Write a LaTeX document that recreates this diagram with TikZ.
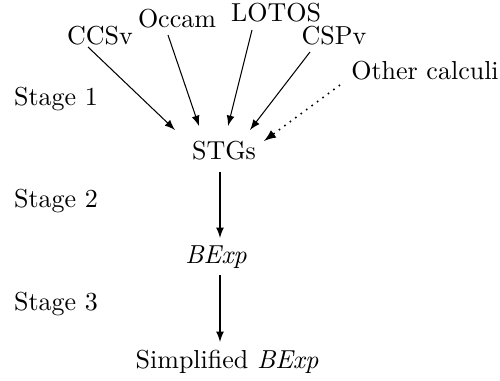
\documentclass[tikz,border=0pt]{standalone}
\begin{document}
\begin{tikzpicture}[>=latex, x=0.3846pt, y=-0.3846pt]
\useasboundingbox (0,0) rectangle (500,381);
% source languages
\node (ccs)   at (100, 36) {CCSv};
\node (occam) at (177, 19) {Occam};
\node (lotos) at (276, 13) {LOTOS};
\node (csp)   at (334, 36) {CSPv};
\node (other) at (425, 71) {Other calculi};
% stages
\node (s1) at (56,  99) {Stage 1};
\node (s2) at (56, 201) {Stage 2};
\node (s3) at (56, 304) {Stage 3};
% targets
\node (stg)  at (224, 151) {STGs};
\node (bexp) at (216, 257) {\textit{BExp}};
\node (simp) at (227, 362) {Simplified \textit{BExp}};
\draw[->] ([shift={(-12,11)}]ccs.center)   -- ([shift={(-49,-21)}]stg.center);
\draw[->] ([shift={(-9,16)}]occam.center)  -- ([shift={(-25,-25)}]stg.center);
\draw[->] ([shift={(-24,17)}]lotos.center) -- ([shift={(4,-25)}]stg.center);
\draw[->] ([shift={(-24,16)}]csp.center)   -- ([shift={(26,-21)}]stg.center);
\draw[->, dotted, semithick] ([shift={(-85,14)}]other.center) -- ([shift={(40,-10)}]stg.center);
\draw[->] ([shift={(-4,21)}]stg.center)  -- ([shift={(4,-19)}]bexp.center);
\draw[->] ([shift={(4,18)}]bexp.center)  -- ([shift={(-7,-20)}]simp.center);
\end{tikzpicture}
\end{document}
